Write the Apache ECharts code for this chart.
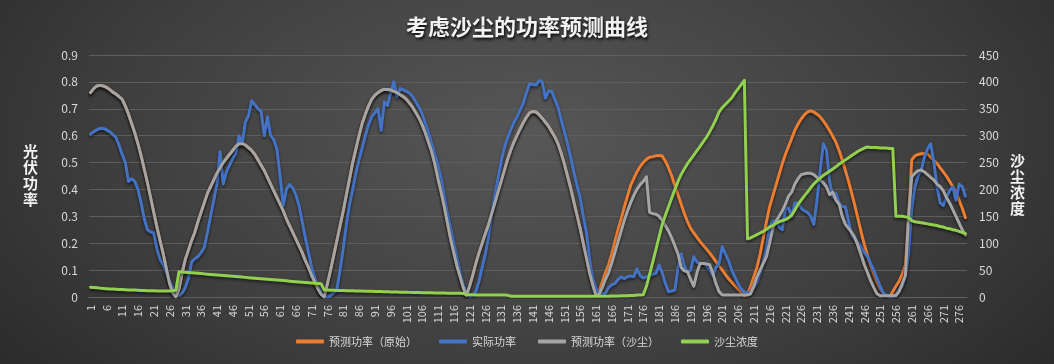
<!DOCTYPE html>
<html>
<head>
<meta charset="utf-8">
<script src="https://cdn.jsdelivr.net/npm/echarts@6/dist/echarts.min.js"></script>
<style>
html,body{margin:0;padding:0;width:1054px;height:364px;overflow:hidden;background:#2a2a2a;}
#chart{width:1054px;height:364px;background:radial-gradient(ellipse 72% 115% at 50% 38%, #575757 0%, #3e3e3e 55%, #242424 100%);}
</style>
</head>
<body>
<div id="chart"></div>
<script>
// categories 1..278
const categories = [];
for (let i = 1; i <= 278; i++) categories.push(String(i));

const seriesNames = ['预测功率（原始）', '实际功率', '预测功率（沙尘）', '沙尘浓度'];

// 预测功率（原始）
const predRaw = [
0.76,0.775,0.785,0.787,0.785,0.78,0.772,0.762,0.755,0.745,
0.735,0.71,0.68,0.645,0.61,0.57,0.525,0.475,0.425,0.37,
0.315,0.26,0.21,0.16,0.105,0.05,0.015,0.0,0.03,0.09,
0.14,0.175,0.21,0.24,0.28,0.315,0.35,0.385,0.41,0.435,
0.46,0.48,0.5,0.515,0.53,0.545,0.56,0.57,0.57,0.565,
0.555,0.545,0.53,0.51,0.49,0.47,0.445,0.42,0.395,0.37,
0.345,0.32,0.29,0.265,0.24,0.215,0.19,0.165,0.135,0.11,
0.08,0.055,0.03,0.01,0.0,0.05,0.1,0.155,0.21,0.265,
0.32,0.38,0.44,0.5,0.55,0.6,0.645,0.68,0.71,0.735,
0.75,0.76,0.768,0.772,0.772,0.77,0.765,0.76,0.752,0.745,
0.735,0.72,0.705,0.685,0.665,0.64,0.61,0.575,0.54,0.495,
0.44,0.39,0.335,0.275,0.215,0.165,0.115,0.075,0.035,0.005,
0.04,0.08,0.125,0.165,0.2,0.235,0.27,0.31,0.35,0.39,
0.43,0.47,0.51,0.545,0.575,0.6,0.625,0.648,0.668,0.685,
0.69,0.688,0.678,0.665,0.65,0.635,0.615,0.595,0.57,0.535,
0.495,0.45,0.405,0.355,0.305,0.255,0.2,0.145,0.09,0.045,
0.01,0.02,0.055,0.09,0.12,0.16,0.205,0.25,0.29,0.335,
0.375,0.415,0.44,0.465,0.485,0.5,0.512,0.52,0.522,0.525,
0.526,0.524,0.505,0.48,0.45,0.415,0.38,0.345,0.31,0.28,
0.255,0.238,0.222,0.206,0.192,0.178,0.164,0.148,0.132,0.116,
0.1,0.083,0.068,0.055,0.042,0.03,0.018,0.003,0.01,0.04,
0.075,0.11,0.16,0.22,0.28,0.335,0.375,0.415,0.455,0.495,
0.53,0.56,0.59,0.62,0.643,0.662,0.677,0.688,0.692,0.688,
0.68,0.67,0.655,0.638,0.618,0.598,0.575,0.545,0.51,0.47,
0.43,0.385,0.34,0.29,0.24,0.195,0.155,0.115,0.085,0.055,
0.03,0.014,0.005,0.0,0.02,0.04,0.058,0.085,0.12,0.3,
0.51,0.525,0.53,0.533,0.534,0.532,0.52,0.508,0.496,0.48,
0.465,0.449,0.43,0.41,0.39,0.36,0.33,0.295
];

// 实际功率
const actual = [
0.606,0.615,0.622,0.627,0.627,0.622,0.615,0.605,0.594,0.565,
0.53,0.5,0.43,0.44,0.43,0.4,0.35,0.29,0.25,0.242,
0.238,0.18,0.14,0.12,0.09,0.06,0.035,0.01,0.005,0.015,
0.035,0.07,0.13,0.142,0.15,0.165,0.185,0.24,0.3,0.36,
0.42,0.54,0.42,0.465,0.49,0.515,0.535,0.6,0.57,0.65,
0.675,0.73,0.715,0.7,0.69,0.6,0.67,0.6,0.585,0.55,
0.45,0.34,0.4,0.418,0.405,0.38,0.34,0.28,0.22,0.165,
0.11,0.07,0.04,0.015,0.0,0.0,0.005,0.015,0.03,0.1,
0.18,0.27,0.345,0.4,0.46,0.51,0.555,0.6,0.64,0.67,
0.685,0.7,0.62,0.725,0.712,0.76,0.8,0.745,0.775,0.77,
0.765,0.758,0.745,0.725,0.705,0.68,0.645,0.61,0.57,0.53,
0.49,0.44,0.375,0.31,0.255,0.2,0.145,0.09,0.045,0.015,
0.0,0.005,0.02,0.06,0.11,0.16,0.225,0.31,0.38,0.44,
0.505,0.555,0.59,0.62,0.648,0.67,0.695,0.72,0.76,0.792,
0.79,0.788,0.805,0.8,0.74,0.765,0.765,0.735,0.705,0.66,
0.615,0.57,0.52,0.465,0.415,0.37,0.3,0.24,0.14,0.07,
0.03,0.014,0.012,0.014,0.035,0.045,0.05,0.065,0.075,0.068,
0.075,0.078,0.076,0.105,0.08,0.07,0.075,0.08,0.085,0.088,
0.118,0.09,0.05,0.02,0.022,0.026,0.11,0.16,0.115,0.09,
0.1,0.15,0.13,0.125,0.125,0.115,0.1,0.078,0.11,0.125,
0.187,0.16,0.135,0.1,0.075,0.05,0.03,0.018,0.015,0.02,
0.035,0.055,0.088,0.13,0.18,0.26,0.28,0.286,0.26,0.25,
0.33,0.33,0.3,0.35,0.35,0.33,0.32,0.315,0.3,0.27,
0.36,0.47,0.57,0.545,0.43,0.37,0.385,0.35,0.336,0.336,
0.28,0.23,0.215,0.2,0.185,0.165,0.15,0.125,0.1,0.07,
0.04,0.015,0.005,0.0,0.0,0.01,0.025,0.04,0.08,0.16,
0.33,0.41,0.45,0.47,0.52,0.55,0.57,0.5,0.41,0.35,
0.34,0.37,0.395,0.41,0.36,0.42,0.41,0.375
];

// 预测功率（沙尘）
const predDust = [
0.76,0.775,0.785,0.787,0.785,0.78,0.772,0.762,0.755,0.745,
0.735,0.71,0.68,0.645,0.61,0.57,0.525,0.475,0.425,0.37,
0.315,0.26,0.21,0.16,0.105,0.05,0.015,0.0,0.03,0.09,
0.14,0.175,0.21,0.24,0.28,0.315,0.35,0.385,0.41,0.435,
0.46,0.48,0.5,0.515,0.53,0.545,0.56,0.57,0.57,0.565,
0.555,0.545,0.53,0.51,0.49,0.47,0.445,0.42,0.395,0.37,
0.345,0.32,0.29,0.265,0.24,0.215,0.19,0.165,0.135,0.11,
0.08,0.055,0.03,0.01,0.0,0.05,0.1,0.155,0.21,0.265,
0.32,0.38,0.44,0.5,0.55,0.6,0.645,0.68,0.71,0.735,
0.75,0.76,0.768,0.772,0.772,0.77,0.765,0.76,0.752,0.745,
0.735,0.72,0.705,0.685,0.665,0.64,0.61,0.575,0.54,0.495,
0.44,0.39,0.335,0.275,0.215,0.165,0.115,0.075,0.035,0.005,
0.04,0.08,0.125,0.165,0.2,0.235,0.27,0.31,0.35,0.39,
0.43,0.47,0.51,0.545,0.575,0.6,0.625,0.648,0.668,0.685,
0.69,0.688,0.678,0.665,0.65,0.635,0.615,0.595,0.57,0.535,
0.495,0.45,0.405,0.355,0.305,0.255,0.2,0.145,0.09,0.045,
0.005,0.01,0.035,0.065,0.09,0.125,0.165,0.205,0.245,0.285,
0.32,0.35,0.378,0.4,0.418,0.43,0.447,0.315,0.31,0.308,
0.3,0.285,0.265,0.245,0.22,0.19,0.16,0.11,0.097,0.094,
0.065,0.04,0.09,0.125,0.125,0.123,0.12,0.09,0.05,0.02,
0.007,0.007,0.007,0.007,0.007,0.007,0.007,0.007,0.007,0.012,
0.04,0.075,0.1,0.125,0.15,0.2,0.255,0.28,0.3,0.32,
0.345,0.375,0.39,0.42,0.44,0.455,0.458,0.46,0.46,0.455,
0.445,0.435,0.425,0.41,0.38,0.39,0.36,0.345,0.3,0.27,
0.255,0.24,0.22,0.19,0.155,0.12,0.09,0.06,0.035,0.012,
0.005,0.005,0.005,0.005,0.005,0.005,0.02,0.05,0.08,0.3,
0.447,0.46,0.47,0.472,0.465,0.455,0.445,0.435,0.42,0.41,
0.395,0.37,0.35,0.325,0.3,0.275,0.25,0.23
];

// 沙尘浓度
const dust = [
18,17.5,17,16.5,16,15.5,15,14.8,14.5,14,
13.8,13.5,13.2,13,12.8,12.5,12.3,12,11.8,11.6,
11.5,11.3,11.2,11,11,11.3,11.8,12.5,47,46.5,
46,45.5,45,44.5,44,43.5,43,42.5,42,41.5,
41,40.5,40,39.5,39,38.5,38,37.5,37,36.5,
36,35.5,35,34.5,34,33.5,33,32.5,32,31.5,
31,30.5,30,29.5,29,28.5,28,27.5,27,26.5,
26,25.5,25,24.5,13,12.8,12.6,12.5,12.3,12.2,
12,11.8,11.6,11.5,11.3,11.1,11,10.8,10.6,10.5,
10.3,10.1,10,9.8,9.6,9.5,9.3,9.2,9,8.9,
8.8,8.6,8.5,8.4,8.2,8.1,8,7.9,7.8,7.6,
7.5,7.4,7.3,7.2,7.1,7,6.9,6.8,6.7,4,
4,4,3.9,3.9,3.8,3.8,3.7,3.7,3.6,3.6,
3.5,3.5,3.4,1.5,1.5,1.5,1.5,1.5,1.5,1.5,
1.5,1.5,1.5,1.5,1.5,1.5,1.5,1.5,1.5,1.5,
1.5,1.5,1.5,1.5,1.5,1.5,1.5,1.5,1.5,1.5,
1.5,1.5,1.5,1.5,1.5,2,2,2,2.5,2.5,
2.5,3,3,3.5,3.5,4,20,42,65,88,
112,135,152,168,184,200,215,228,238,248,
256,264,272,280,289,297,307,318,330,344,
352,358,364,370,379,387,395,403,108,110,
113,116,119,122,126,130,133,137,140,142,
144,147,152,162,172,180,188,195,203,210,
216,221,226,230,234,238,242,247,251,255,
259,263,267,271,274,277,279,278,278,278,
277,277,277,276,276,150,150,150,149,148,
142,140,139,138,137,136,135,134,133,131,
130,128,127,125,124,122,120,118
];

const leftTicks = { min: 0, max: 0.9, interval: 0.1 };
const rightTicks = { min: 0, max: 450, interval: 50 };
const colors = ['#ED7D31', '#4472C4', '#A5A5A5', '#92D050'];

const FONT = '"Noto Sans CJK SC", "Noto Sans", sans-serif';
const chart = echarts.init(document.getElementById('chart'), null, { renderer: 'canvas' });

function lineSeries(name, data, color, yIndex) {
  return {
    name: name, type: 'line', data: data, yAxisIndex: yIndex,
    symbol: 'none', smooth: false, animation: false,
    lineStyle: { color: color, width: 3, join: 'round', cap: 'round',
      shadowColor: 'rgba(0,0,0,0.55)', shadowBlur: 3, shadowOffsetY: 2 },
    itemStyle: { color: color }
  };
}

const option = {
  backgroundColor: 'transparent',
  animation: false,
  color: colors,
  textStyle: { fontFamily: FONT },
  title: {
    text: '考虑沙尘的功率预测曲线', left: 'center', top: 11,
    textStyle: { color: '#f2f2f2', fontSize: 22, fontWeight: 'bold', fontFamily: FONT,
      textShadowColor: 'rgba(0,0,0,0.9)', textShadowBlur: 3, textShadowOffsetX: 1, textShadowOffsetY: 2 }
  },
  legend: {
    data: seriesNames, bottom: 12, left: 'center',
    itemWidth: 28, itemHeight: 4, itemGap: 22, icon: 'roundRect',
    textStyle: { color: '#d9d9d9', fontSize: 11, fontFamily: FONT }
  },
  grid: { left: 89, right: 87, top: 55, bottom: 67 },
  xAxis: {
    type: 'category', data: categories, boundaryGap: true,
    axisLine: { lineStyle: { color: '#606060', width: 1 } },
    axisTick: { show: false },
    axisLabel: { interval: 4, rotate: 90, color: '#d9d9d9', fontSize: 11, margin: 8, fontFamily: FONT },
    splitLine: { show: false }
  },
  yAxis: [
    { type: 'value', min: leftTicks.min, max: leftTicks.max, interval: leftTicks.interval,
      axisLine: { show: false }, axisTick: { show: false },
      axisLabel: { color: '#d9d9d9', fontSize: 12, margin: 11, fontFamily: FONT },
      splitLine: { lineStyle: { color: '#5e5e5e', width: 1 } } },
    { type: 'value', min: rightTicks.min, max: rightTicks.max, interval: rightTicks.interval,
      axisLine: { show: false }, axisTick: { show: false },
      axisLabel: { color: '#d9d9d9', fontSize: 12, margin: 12, fontFamily: FONT },
      splitLine: { show: false } }
  ],
  graphic: [
    { type: 'text', left: 23, top: 143,
      style: { text: '光\n伏\n功\n率', fill: '#f2f2f2', font: 'bold 15px "Noto Sans CJK SC"', lineHeight: 16 } },
    { type: 'text', left: 1010, top: 152,
      style: { text: '沙\n尘\n浓\n度', fill: '#f2f2f2', font: 'bold 15px "Noto Sans CJK SC"', lineHeight: 16 } }
  ],
  series: [
    lineSeries(seriesNames[0], predRaw, colors[0], 0),
    lineSeries(seriesNames[1], actual, colors[1], 0),
    lineSeries(seriesNames[2], predDust, colors[2], 0),
    lineSeries(seriesNames[3], dust, colors[3], 1)
  ]
};
chart.setOption(option);
</script>
</body>
</html>
